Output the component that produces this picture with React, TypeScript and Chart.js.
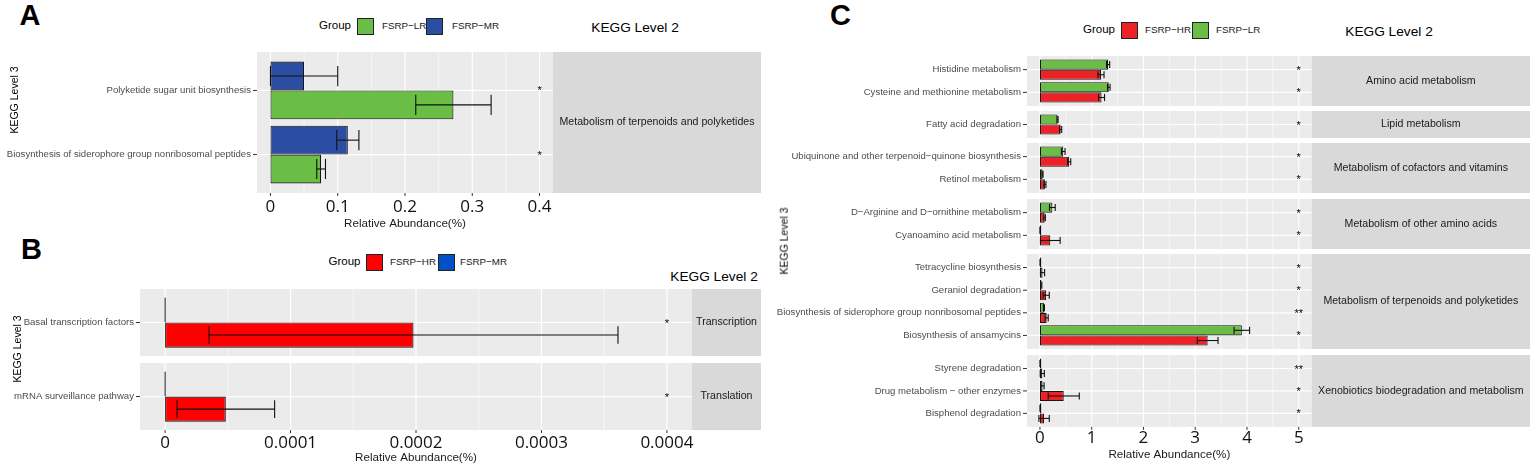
import React, { useEffect, useRef } from 'react';
import { Chart, registerables } from 'chart.js';

Chart.register(...registerables);

// ---------- colours ----------
const GREEN = '#6BBE45';
const BLUE_A = '#2B4EA2';
const RED_B = '#FF0000';
const BLUE_B = '#0050C8';
const RED_C = '#EC2227';

// ---------- Panel A ----------
const A_LEVEL2 = 'Metabolism of terpenoids and polyketides';
const A_CATEGORIES = ['Polyketide sugar unit biosynthesis', 'Biosynthesis of siderophore group nonribosomal peptides'];
const A_MR_MEAN = [0.05, 0.115];
const A_MR_SD = [0.05, 0.0165];
const A_LR_MEAN = [0.272, 0.0753];
const A_LR_SD = [0.056, 0.0065];
const A_SIGNIF = ['*', '*'];
const A_TICKS = [0, 0.1, 0.2, 0.3, 0.4];
const A_TICK_LABELS = ['0', '0.1', '0.2', '0.3', '0.4'];
const A_RANGE = [-0.02, 0.42];
const A_SIGNIF_AT = 0.4;

// ---------- Panel B ----------
const B_LEVEL2 = ['Transcription', 'Translation'];
const B_CATEGORIES = ['Basal transcription factors', 'mRNA surveillance pathway'];
const B_MR_MEAN = [0, 0];
const B_MR_SD = [0, 0];
const B_HR_MEAN = [0.000198, 0.0000484];
const B_HR_SD = [0.000163, 0.0000389];
const B_SIGNIF = ['*', '*'];
const B_TICKS = [0, 0.0001, 0.0002, 0.0003, 0.0004];
const B_TICK_LABELS = ['0', '0.0001', '0.0002', '0.0003', '0.0004'];
const B_RANGE = [-0.00002, 0.00042];
const B_SIGNIF_AT = 0.0004;

// ---------- Panel C ----------
const C_LEVEL2 = [
  'Amino acid metabolism',
  'Lipid metabolism',
  'Metabolism of cofactors and vitamins',
  'Metabolism of other amino acids',
  'Metabolism of terpenoids and polyketides',
  'Xenobiotics biodegradation and metabolism',
];
const C_GROUP = [0, 0, 1, 2, 2, 3, 3, 4, 4, 4, 4, 5, 5, 5];
const C_CATEGORIES = [
  'Histidine metabolism',
  'Cysteine and methionine metabolism',
  'Fatty acid degradation',
  'Ubiquinone and other terpenoid\u2212quinone biosynthesis',
  'Retinol metabolism',
  'D\u2212Arginine and D\u2212ornithine metabolism',
  'Cyanoamino acid metabolism',
  'Tetracycline biosynthesis',
  'Geraniol degradation',
  'Biosynthesis of siderophore group nonribosomal peptides',
  'Biosynthesis of ansamycins',
  'Styrene degradation',
  'Drug metabolism \u2212 other enzymes',
  'Bisphenol degradation',
];
const C_LR_MEAN = [1.317, 1.33, 0.34, 0.45, 0.05, 0.24, 0.004, 0.006, 0.026, 0.077, 3.9, 0.005, 0.05, 0.005];
const C_LR_SD = [0.03, 0.025, 0.01, 0.035, 0.01, 0.055, 0.002, 0.003, 0.01, 0.01, 0.15, 0.003, 0.03, 0.003];
const C_HR_MEAN = [1.18, 1.19, 0.4, 0.565, 0.096, 0.09, 0.2, 0.05, 0.12, 0.13, 3.24, 0.045, 0.46, 0.08];
const C_HR_SD = [0.058, 0.058, 0.02, 0.03, 0.02, 0.015, 0.19, 0.04, 0.06, 0.03, 0.2, 0.04, 0.3, 0.1];
const C_SIGNIF = ['*', '*', '*', '*', '*', '*', '*', '*', '*', '**', '*', '**', '*', '*'];
const C_TICKS = [0, 1, 2, 3, 4, 5];
const C_TICK_LABELS = ['0', '1', '2', '3', '4', '5'];
const C_RANGE = [-0.25, 5.25];
const C_SIGNIF_AT = 5;

// ---------- fonts ----------
const SANS = '"Liberation Sans", Arial, Helvetica, sans-serif';
const TICK_FONT = '"Open Sans", "Liberation Sans", sans-serif';

type Series = { name: string; mean: number[]; sd: number[]; color: string };
type FacetSpec = {
  left: number;
  top: number;
  bgLeft: number;
  bgRight: number;
  stripRight: number;
  band: number;
  labels: string[];
  series: Series[];
  signif: string[];
  signifAt: number;
  strip: string;
  range: number[];
  ticks: number[];
  tickLabels: string[];
  axis?: { height: number; tickPad: number };
};

function zeroPad(scale: any) {
  scale.paddingTop = 0;
  scale.paddingBottom = 0;
  scale.paddingLeft = 0;
  scale.paddingRight = 0;
}

function Facet(p: FacetSpec) {
  const ref = useRef<HTMLCanvasElement | null>(null);
  const pad = p.band * 0.1;
  const n = p.labels.length;
  const width = Math.round(p.stripRight - p.left);
  const height = Math.round(pad + n * p.band + (p.axis ? p.axis.height : pad));
  const stripW = p.stripRight - p.bgRight;
  const yW = p.bgLeft - p.left;

  useEffect(() => {
    const canvas = ref.current;
    if (!canvas) return;
    const line = (ctx: CanvasRenderingContext2D, x1: number, y1: number, x2: number, y2: number) => {
      ctx.beginPath();
      ctx.moveTo(x1, y1);
      ctx.lineTo(x2, y2);
      ctx.stroke();
    };
    const plugin = {
      id: 'facet',
      beforeDraw(chart: any) {
        const { ctx, chartArea: ca } = chart;
        const x = chart.scales.x;
        const y = chart.scales.y;
        const top = ca.top - pad;
        const bottom = ca.bottom + pad;
        ctx.save();
        ctx.fillStyle = '#EBEBEB';
        ctx.fillRect(ca.left, top, ca.right - ca.left, bottom - top);
        ctx.strokeStyle = '#FFFFFF';
        ctx.lineWidth = 0.6;
        for (let i = 0; i < p.ticks.length - 1; i++) {
          const px = x.getPixelForValue((p.ticks[i] + p.ticks[i + 1]) / 2);
          line(ctx, px, top, px, bottom);
        }
        ctx.lineWidth = 1.2;
        p.ticks.forEach((t) => {
          const px = x.getPixelForValue(t);
          line(ctx, px, top, px, bottom);
        });
        p.labels.forEach((_, i) => {
          const py = y.getPixelForValue(i);
          line(ctx, ca.left, py, ca.right, py);
        });
        // strip
        ctx.fillStyle = '#D9D9D9';
        ctx.fillRect(ca.right, top, stripW, bottom - top);
        ctx.fillStyle = '#1A1A1A';
        ctx.font = `10.6px ${SANS}`;
        ctx.textAlign = 'center';
        ctx.textBaseline = 'middle';
        ctx.fillText(p.strip, ca.right + stripW / 2, (top + bottom) / 2);
        // axis tick marks
        ctx.strokeStyle = '#333333';
        ctx.lineWidth = 1;
        p.labels.forEach((_, i) => {
          const py = y.getPixelForValue(i);
          line(ctx, ca.left - 4, py, ca.left, py);
        });
        if (p.axis) {
          p.ticks.forEach((t) => {
            const px = x.getPixelForValue(t);
            line(ctx, px, bottom, px, bottom + 3);
          });
        }
        ctx.restore();
      },
      afterDatasetsDraw(chart: any) {
        const { ctx } = chart;
        const x = chart.scales.x;
        const y = chart.scales.y;
        ctx.save();
        ctx.strokeStyle = '#111111';
        ctx.lineWidth = 1.1;
        p.series.forEach((s, di) => {
          const meta = chart.getDatasetMeta(di);
          meta.data.forEach((bar: any, i: number) => {
            const sd = s.sd[i];
            if (!sd) return;
            const x1 = x.getPixelForValue(s.mean[i] - sd);
            const x2 = x.getPixelForValue(s.mean[i] + sd);
            const h = (bar.height || p.band * 0.45) * 0.7;
            const yc = bar.y;
            line(ctx, x1, yc, x2, yc);
            line(ctx, x1, yc - h / 2, x1, yc + h / 2);
            line(ctx, x2, yc - h / 2, x2, yc + h / 2);
          });
        });
        ctx.fillStyle = '#000000';
        ctx.font = `11px ${SANS}`;
        ctx.textAlign = 'center';
        ctx.textBaseline = 'middle';
        p.signif.forEach((s, i) => {
          ctx.fillText(s, x.getPixelForValue(p.signifAt), y.getPixelForValue(i) + 1);
        });
        ctx.restore();
      },
    };

    const chart = new Chart(canvas, {
      type: 'bar',
      data: {
        labels: p.labels,
        datasets: p.series.map((s) => ({
          label: s.name,
          data: s.mean,
          backgroundColor: s.color,
          borderColor: '#161616',
          borderWidth: 1.1,
          borderSkipped: false,
          categoryPercentage: 0.9,
          barPercentage: 1,
          minBarLength: 1.4,
        })),
      },
      options: {
        indexAxis: 'y',
        responsive: false,
        maintainAspectRatio: false,
        animation: false,
        devicePixelRatio: 1,
        layout: { padding: { left: 0, right: stripW, top: pad, bottom: p.axis ? 0 : pad } },
        plugins: { legend: { display: false }, tooltip: { enabled: false } },
        scales: {
          x: {
            type: 'linear',
            display: !!p.axis,
            min: p.range[0],
            max: p.range[1],
            afterBuildTicks: (scale: any) => {
              scale.ticks = p.ticks.map((v) => ({ value: v }));
            },
            afterFit: (scale: any) => {
              if (p.axis) scale.height = p.axis.height;
              zeroPad(scale);
            },
            grid: { display: false, drawTicks: false },
            border: { display: false },
            ticks: {
              padding: p.axis ? p.axis.tickPad : 0,
              autoSkip: false,
              maxRotation: 0,
              color: '#111111',
              font: { family: TICK_FONT, size: 17, weight: '400', lineHeight: 1.2 },
              callback: (v: any) => {
                const idx = p.ticks.indexOf(Number(v));
                return idx >= 0 ? p.tickLabels[idx] : '';
              },
            },
            title: {
              display: true,
              text: 'Relative Abundance(%)',
              padding: 0,
              color: '#1A1A1A',
              font: { family: SANS, size: 11.6, lineHeight: 1.2 },
            },
          },
          y: {
            type: 'category',
            offset: true,
            afterFit: (scale: any) => {
              scale.width = yW;
              zeroPad(scale);
            },
            grid: { display: false, drawTicks: false },
            border: { display: false },
            ticks: {
              padding: 6,
              autoSkip: false,
              color: '#4D4D4D',
              font: { family: SANS, size: 9.6, lineHeight: 1.2 },
            },
          },
        },
      } as any,
      plugins: [plugin],
    });
    return () => chart.destroy();
  }, []);

  return (
    <canvas
      ref={ref}
      width={width}
      height={height}
      style={{ position: 'absolute', left: p.left, top: p.top, width, height }}
    />
  );
}

function Txt(props: {
  x: number;
  y: number;
  size: number;
  text: string;
  bold?: boolean;
  start?: boolean;
  rotate?: boolean;
  color?: string;
}) {
  const t = `translate(${props.start ? '0' : '-50%'}, -50%)${props.rotate ? ' rotate(-90deg)' : ''}`;
  return (
    <div
      style={{
        position: 'absolute',
        left: props.x,
        top: props.y,
        fontFamily: SANS,
        fontSize: props.size,
        fontWeight: props.bold ? 700 : 400,
        lineHeight: 1,
        color: props.color || '#000',
        whiteSpace: 'nowrap',
        transform: t,
      }}
    >
      {props.text}
    </div>
  );
}

function Key(props: { x: number; y: number; color: string }) {
  return (
    <div
      style={{
        position: 'absolute',
        left: props.x,
        top: props.y,
        width: 17,
        height: 17,
        boxSizing: 'border-box',
        border: '1px solid #222',
        background: props.color,
      }}
    />
  );
}

// layout of panel C facets (ggplot free-space facets)
const C_TOP = 55.5;
const C_BAND = 22.6;
const C_GAP = 5.56;

export default function App() {
  const cFacets: React.ReactNode[] = [];
  let cTop = C_TOP;
  C_LEVEL2.forEach((lvl, g) => {
    const idx = C_CATEGORIES.map((_, i) => i).filter((i) => C_GROUP[i] === g);
    const last = g === C_LEVEL2.length - 1;
    cFacets.push(
      <Facet
        key={lvl}
        left={765}
        top={cTop}
        bgLeft={1027}
        bgRight={1311.7}
        stripRight={1530}
        band={C_BAND}
        labels={idx.map((i) => C_CATEGORIES[i])}
        series={[
          { name: 'FSRP\u2212LR', mean: idx.map((i) => C_LR_MEAN[i]), sd: idx.map((i) => C_LR_SD[i]), color: GREEN },
          { name: 'FSRP\u2212HR', mean: idx.map((i) => C_HR_MEAN[i]), sd: idx.map((i) => C_HR_SD[i]), color: RED_C },
        ]}
        signif={idx.map((i) => C_SIGNIF[i])}
        signifAt={C_SIGNIF_AT}
        strip={lvl}
        range={C_RANGE}
        ticks={C_TICKS}
        tickLabels={C_TICK_LABELS}
        axis={last ? { height: 37.4, tickPad: 3.3 } : undefined}
      />
    );
    cTop += C_BAND * (idx.length + 0.2) + C_GAP;
  });

  const bBand = 67 / 1.2;
  const bTops = [289, 363];

  return (
    <div
      style={{
        position: 'absolute',
        left: 0,
        top: 0,
        width: 1535,
        height: 469,
        background: '#FFFFFF',
        overflow: 'hidden',
      }}
    >
      {/* Panel A */}
      <Facet
        left={0}
        top={52}
        bgLeft={257}
        bgRight={553}
        stripRight={761}
        band={141 / 2.2}
        labels={A_CATEGORIES}
        series={[
          { name: 'FSRP\u2212MR', mean: A_MR_MEAN, sd: A_MR_SD, color: BLUE_A },
          { name: 'FSRP\u2212LR', mean: A_LR_MEAN, sd: A_LR_SD, color: GREEN },
        ]}
        signif={A_SIGNIF}
        signifAt={A_SIGNIF_AT}
        strip={A_LEVEL2}
        range={A_RANGE}
        ticks={A_TICKS}
        tickLabels={A_TICK_LABELS}
        axis={{ height: 44.4, tickPad: 10.2 }}
      />

      {/* Panel B */}
      {B_CATEGORIES.map((cat, i) => (
        <Facet
          key={cat}
          left={0}
          top={bTops[i]}
          bgLeft={140}
          bgRight={692}
          stripRight={761}
          band={bBand}
          labels={[cat]}
          series={[
            { name: 'FSRP\u2212MR', mean: [B_MR_MEAN[i]], sd: [B_MR_SD[i]], color: BLUE_B },
            { name: 'FSRP\u2212HR', mean: [B_HR_MEAN[i]], sd: [B_HR_SD[i]], color: RED_B },
          ]}
          signif={[B_SIGNIF[i]]}
          signifAt={B_SIGNIF_AT}
          strip={B_LEVEL2[i]}
          range={B_RANGE}
          ticks={B_TICKS}
          tickLabels={B_TICK_LABELS}
          axis={i === B_CATEGORIES.length - 1 ? { height: 40.5, tickPad: 8.4 } : undefined}
        />
      ))}

      {/* Panel C */}
      {cFacets}

      {/* Panel letters */}
      <Txt x={30} y={14.5} size={29} bold text="A" />
      <Txt x={31.5} y={249} size={29} bold text="B" />
      <Txt x={840.5} y={15} size={29} bold text="C" />

      {/* Legends */}
      <Txt x={335} y={26} size={11.5} text="Group" />
      <Key x={357} y={17.5} color={GREEN} />
      <Txt x={382} y={26} size={9.8} start text={'FSRP\u2212LR'} color="#1A1A1A" />
      <Key x={426} y={17.5} color={BLUE_A} />
      <Txt x={452} y={26} size={9.8} start text={'FSRP\u2212MR'} color="#1A1A1A" />

      <Txt x={344.5} y={262} size={11.5} text="Group" />
      <Key x={366} y={253.5} color={RED_B} />
      <Txt x={390} y={262} size={9.8} start text={'FSRP\u2212HR'} color="#1A1A1A" />
      <Key x={438} y={253.5} color={BLUE_B} />
      <Txt x={460} y={262} size={9.8} start text={'FSRP\u2212MR'} color="#1A1A1A" />

      <Txt x={1099} y={30} size={11.5} text="Group" />
      <Key x={1121} y={21.5} color={RED_C} />
      <Txt x={1145} y={30} size={9.8} start text={'FSRP\u2212HR'} color="#1A1A1A" />
      <Key x={1192} y={21.5} color={GREEN} />
      <Txt x={1216} y={30} size={9.8} start text={'FSRP\u2212LR'} color="#1A1A1A" />

      {/* KEGG Level 2 headers */}
      <Txt x={635} y={28} size={13.7} text="KEGG Level 2" />
      <Txt x={714} y={277} size={13.7} text="KEGG Level 2" />
      <Txt x={1389} y={32} size={13.7} text="KEGG Level 2" />

      {/* y-axis titles */}
      <Txt x={14} y={100} size={10.5} rotate text="KEGG Level 3" />
      <Txt x={17} y={349} size={10.5} rotate text="KEGG Level 3" />
      <Txt x={784} y={241} size={10.5} rotate text="KEGG Level 3" />
    </div>
  );
}
